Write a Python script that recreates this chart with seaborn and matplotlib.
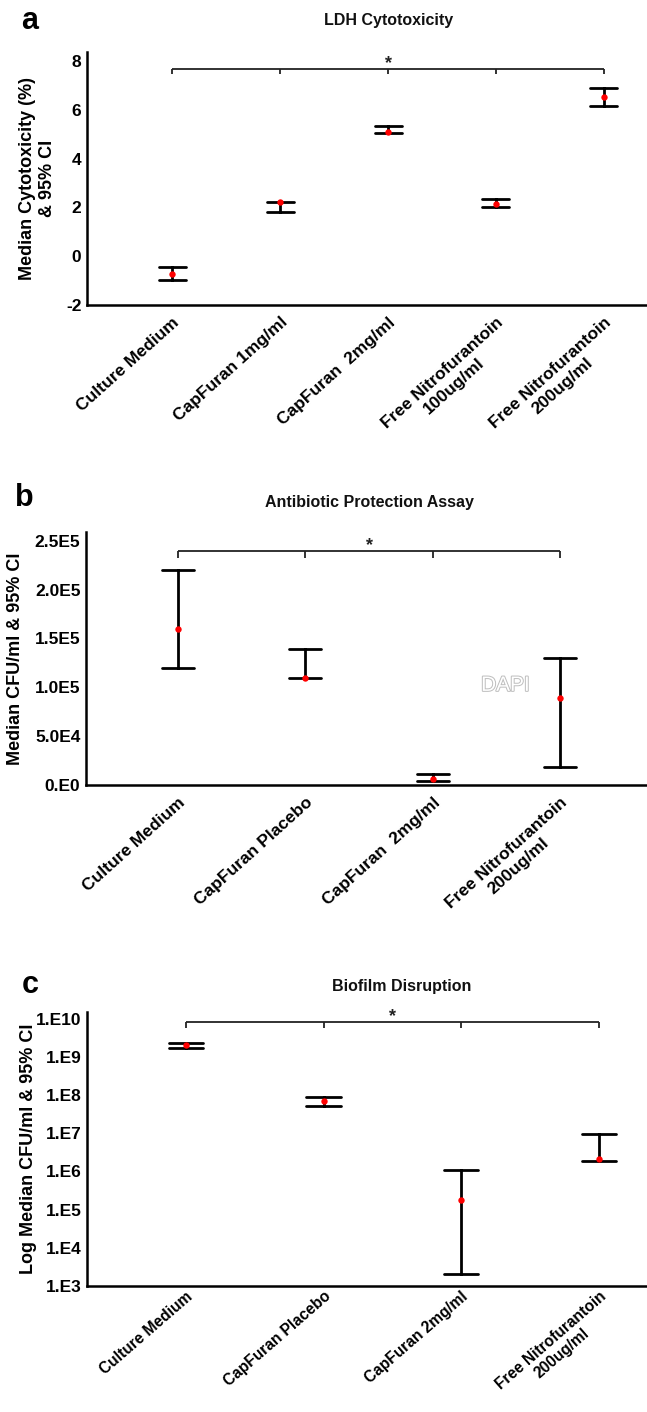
import numpy as np
import pandas as pd
import matplotlib
matplotlib.use("Agg")
import matplotlib.pyplot as plt
import matplotlib.patheffects as pe
import seaborn as sns

# ---------------- data ----------------
cats_a = ["Culture Medium", "CapFuran 1mg/ml", "CapFuran  2mg/ml",
          "Free Nitrofurantoin\n100ug/ml", "Free Nitrofurantoin\n200ug/ml"]
med_a = [-0.71, 2.21, 5.11, 2.16, 6.54]
lo_a = [-0.96, 1.82, 5.07, 2.00, 6.14]
hi_a = [-0.45, 2.24, 5.32, 2.33, 6.91]
yticks_a = [-2, 0, 2, 4, 6, 8]
yticklabels_a = ["-2", "0", "2", "4", "6", "8"]
bracket_a = (7.67, 7.45)

cats_b = ["Culture Medium", "CapFuran Placebo", "CapFuran  2mg/ml",
          "Free Nitrofurantoin\n200ug/ml"]
med_b = [1.595e5, 1.096e5, 6.1e3, 8.94e4]
lo_b = [1.196e5, 1.096e5, 4.1e3, 1.81e4]
hi_b = [2.20e5, 1.39e5, 1.13e4, 1.30e5]
yticks_b = [0, 5e4, 1e5, 1.5e5, 2e5, 2.5e5]
yticklabels_b = ["0.E0", "5.0E4", "1.0E5", "1.5E5", "2.0E5", "2.5E5"]
bracket_b = (2.40e5, 2.32e5)

cats_c = ["Culture Medium", "CapFuran Placebo", "CapFuran 2mg/ml",
          "Free Nitrofurantoin\n200ug/ml"]
med_c = [2.0e9, 6.9e7, 1.8e5, 2.1e6]
lo_c = [1.74e9, 5.1e7, 2.1e3, 1.9e6]
hi_c = [2.3e9, 8.7e7, 1.1e6, 9.3e6]
yticks_c = [1e3, 1e4, 1e5, 1e6, 1e7, 1e8, 1e9, 1e10]
yticklabels_c = ["1.E3", "1.E4", "1.E5", "1.E6", "1.E7", "1.E8", "1.E9", "1.E10"]
bracket_c = (8.2e9, 5.7e9)

titles = ["LDH Cytotoxicity", "Antibiotic Protection Assay", "Biofilm Disruption"]
ylabels = ["Median Cytotoxicity (%)\n& 95% CI", "Median CFU/ml & 95% CI",
           "Log Median CFU/ml & 95% CI"]
letters = ["a", "b", "c"]
dapi_pos = (2.57, 1.02e5)

# ---------------- style ----------------
sns.set_theme(style="white")
plt.rcParams["font.family"] = ["Liberation Sans", "DejaVu Sans"]
plt.rcParams["font.weight"] = "bold"

W, H = 647, 1412
fig = plt.figure(figsize=(W / 100, H / 100), dpi=100)
fig.patch.set_facecolor("white")


def axes_px(l, t, r, b):
    return fig.add_axes([l / W, 1 - b / H, (r - l) / W, (b - t) / H])


def panel(ax, cats, lo, med, hi, yticks, yticklabels, xlim, ylim, bracket,
          ylabel, ylabel_x, log=False, xpad=7, xfs=12.5, xrot=42):
    df = pd.DataFrame({
        "group": np.repeat(cats, 3),
        "value": np.ravel(np.column_stack([lo, med, hi])),
    })
    if log:
        ax.set_yscale("log")
    sns.pointplot(data=df, x="group", y="value", order=cats, estimator="median",
                  errorbar=("pi", 100), color="red", linestyle="none",
                  marker="o", markersize=4.6, markeredgewidth=0, capsize=0.25,
                  err_kws={"color": "black", "linewidth": 2.0}, ax=ax)
    for ln in ax.lines:
        if ln.get_marker() == "o":
            ln.set_zorder(6)
    n = len(cats)
    # significance bracket
    ax.plot([0, n - 1], [bracket[0], bracket[0]], color="#222222", lw=1.3,
            solid_capstyle="butt", clip_on=False)
    for p in range(n):
        ax.plot([p, p], [bracket[0], bracket[1]], color="#222222", lw=1.3,
                solid_capstyle="butt", clip_on=False)
    ax.annotate("*", xy=((n - 1) / 2, bracket[0]), xytext=(0, 0.5),
                textcoords="offset points", ha="center", va="baseline",
                fontsize=13, fontweight="bold", color="#222222",
                annotation_clip=False)
    ax.set_xlim(*xlim)
    ax.set_ylim(*ylim)
    ax.set_yticks(yticks)
    ax.set_yticklabels(yticklabels, fontsize=12.5, fontweight="bold")
    ax.minorticks_off()
    ax.set_xticks(range(n))
    ax.set_xticklabels(cats, rotation=xrot, ha="right", va="top",
                       rotation_mode="anchor", fontsize=xfs,
                       fontweight="bold", multialignment="center")
    ax.tick_params(axis="y", length=0, pad=4, colors="black")
    ax.tick_params(axis="x", length=0, pad=xpad, colors="black")
    ax.set_xlabel("")
    ax.set_ylabel(ylabel, fontsize=13, fontweight="bold", color="black")
    ax.yaxis.set_label_coords(ylabel_x, 0.5)
    sns.despine(ax=ax)
    for s in ("left", "bottom"):
        ax.spines[s].set_linewidth(1.8)
        ax.spines[s].set_color("black")
    ax.grid(False)


ax_a = axes_px(87, 52, 647, 305)
panel(ax_a, cats_a, lo_a, med_a, hi_a, yticks_a, yticklabels_a,
      (-0.79, 4.40), (-2, 8.37), bracket_a, ylabels[0], -0.056)

ax_b = axes_px(86, 532, 647, 785)
panel(ax_b, cats_b, lo_b, med_b, hi_b, yticks_b, yticklabels_b,
      (-0.72, 3.68), (0, 2.59e5), bracket_b, ylabels[1], -0.11)
ax_b.text(*dapi_pos, "DAPI", fontsize=15, fontweight="normal", color="white",
          ha="center", va="center",
          path_effects=[pe.Stroke(linewidth=1.4, foreground="#bdbdbd"),
                        pe.Normal()])

ax_c = axes_px(87, 1012, 647, 1286)
panel(ax_c, cats_c, lo_c, med_c, hi_c, yticks_c, yticklabels_c,
      (-0.72, 3.35), (1.1e3, 1.5e10), bracket_c, ylabels[2], -0.09, log=True,
      xpad=2, xfs=11.2, xrot=41)

# titles and panel letters
for (tx, ty), t in zip([(389, 20), (369, 502), (402, 987)], titles):
    fig.text(tx / W, 1 - ty / H, t, ha="center", va="center", fontsize=11.5,
             fontweight="bold", color="#111111")
for (lx, ly), l in zip([(30, 21), (24, 498), (30, 985)], letters):
    fig.text(lx / W, 1 - ly / H, l, ha="center", va="center", fontsize=22,
             fontweight="bold", color="black")

fig.savefig("out.png", dpi=100, facecolor="white")
